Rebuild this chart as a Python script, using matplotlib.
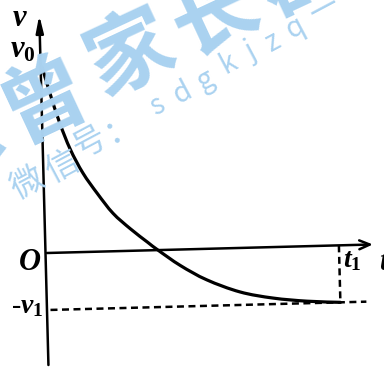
import matplotlib
matplotlib.use("Agg")
import matplotlib.pyplot as plt
import numpy as np
from matplotlib.path import Path
from matplotlib.patches import PathPatch
from matplotlib.transforms import Affine2D

plt.rcParams['mathtext.fontset'] = 'custom'
plt.rcParams['mathtext.it'] = 'Liberation Serif:italic:bold'
plt.rcParams['mathtext.rm'] = 'Liberation Serif:bold'

# v-t curve, one unit = 100 px of the sheet
t = [0.00, 0.07, 0.16, 0.26, 0.38, 0.52, 0.67, 0.84, 1.01, 1.11,
     1.33, 1.59, 1.92, 2.25, 2.59, 2.92]
v = [1.86, 1.60, 1.30, 1.03, 0.79, 0.58, 0.38, 0.22, 0.08, 0.00,
     -0.16, -0.31, -0.44, -0.51, -0.55, -0.57]
v0 = 1.86
v1 = 0.57
t1 = 2.92

labels = {"v": "$v$", "v0": "$v_0$", "O": "$O$", "t1": "$t_1$",
          "t": "$t$", "mv1": "-$v_1$"}

# watermark layout (pixel centres)
wm_big = [("东", -40, 140), ("曾", 45, 100), ("家", 130, 55),
          ("长", 215, 15), ("群", 300, -25)]
wm_small = [("微", 27, 183), ("信", 63, 166), ("号", 90, 142),
            ("：", 120, 128), ("s", 157, 106), ("d", 182, 93),
            ("g", 205, 80), ("k", 228, 63), ("j", 251, 52),
            ("z", 273, 42), ("q", 295, 28), ("—", 323, 8)]

W, H = 384, 368
fig = plt.figure(figsize=(W / 100, H / 100), dpi=100)
ax = fig.add_axes([0, 0, 1, 1])
ox, oy = 47, 253
ax.set_xlim(-ox / 100, (W - ox) / 100)
ax.set_ylim(-(H - oy) / 100, oy / 100)
ax.axis("off")


def fig_xy(px, py):
    return px / W, 1 - py / H


def smooth_path(xs, ys):
    # cubic pieces through every point (Catmull-Rom style handles)
    p = np.column_stack([xs, ys])
    ext = np.vstack([p[0], p, p[-1]])
    verts = [p[0]]
    codes = [Path.MOVETO]
    for i in range(len(p) - 1):
        a, b, c, d = ext[i], ext[i + 1], ext[i + 2], ext[i + 3]
        verts += [b + (c - a) / 6, c - (d - b) / 6, c]
        codes += [Path.CURVE4] * 3
    return Path(verts, codes)


wm_col = "#aad2f0"
for ch, px, py in wm_big:
    fig.text(*fig_xy(px, py), ch, fontsize=62, color=wm_col, weight="bold",
             family=["Noto Sans CJK SC", "DejaVu Sans"], rotation=25,
             ha="center", va="center", rotation_mode="anchor", zorder=0)
for ch, px, py in wm_small:
    size = 24 if ord(ch) > 255 else 20
    fig.text(*fig_xy(px, py), ch, fontsize=size, color=wm_col,
             family=["Noto Sans CJK SC", "DejaVu Sans"], rotation=28,
             ha="center", va="center", rotation_mode="anchor", zorder=0)

# the scanned sheet sits slightly tilted
rot = Affine2D().rotate_deg(1.5) + ax.transData

k = "black"
# axes with arrows
ax.annotate("", xy=(-0.015, 2.38), xytext=(-0.015, -1.12), xycoords=rot,
            arrowprops=dict(arrowstyle="-|>,head_length=1.0,head_width=0.22",
                            lw=1.8, color=k, shrinkA=0, shrinkB=0), zorder=3)
ax.annotate("", xy=(3.26, 0), xytext=(0, 0), xycoords=rot,
            arrowprops=dict(arrowstyle="->,head_length=0.75,head_width=0.32",
                            lw=1.8, color=k, shrinkA=0, shrinkB=0), zorder=3)

ax.add_patch(PathPatch(smooth_path(t, v), fill=False, edgecolor=k, lw=2.3,
                       capstyle="round", transform=rot, zorder=4))
ax.plot([0.02, 3.18], [-v1, -v1], color=k, lw=1.8, dashes=(2.8, 1.8),
        transform=rot, zorder=3)
ax.plot([t1, t1], [0, -v1], color=k, lw=1.8, dashes=(2.8, 1.8),
        transform=rot, zorder=3)

serif = dict(family="Liberation Serif", color=k, ha="center", va="center",
             transform=fig.transFigure, zorder=5)
fig.text(*fig_xy(20, 19), labels["v"], fontsize=22, **serif)
fig.text(*fig_xy(23, 50), labels["v0"], fontsize=22, **serif)
fig.text(*fig_xy(30, 262), labels["O"], fontsize=22, **serif)
fig.text(*fig_xy(27, 307), labels["mv1"], fontsize=20, **serif)
fig.text(*fig_xy(352, 261), labels["t1"], fontsize=20, **serif)
fig.text(*fig_xy(385, 262), labels["t"], fontsize=22, **serif)

fig.savefig("out.png", dpi=100)
